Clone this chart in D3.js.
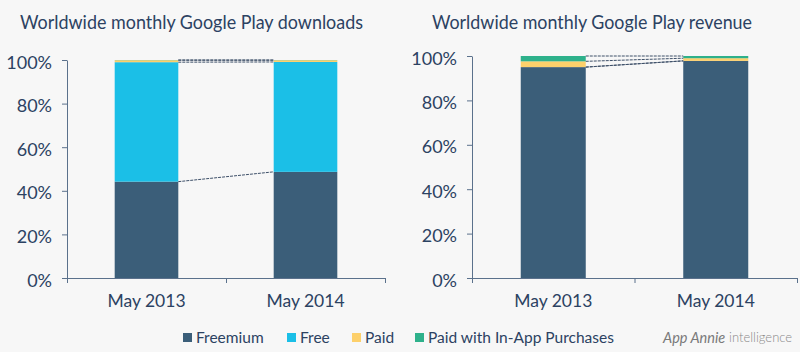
<html>
  <head>
    <script src="https://d3js.org/d3.v7.min.js"></script>
    <style>
      body { margin: 0; background: #f7f7f7; }
      text { font-family: Lato, "DejaVu Sans", sans-serif; fill: #2c4262; }
    </style>
  </head>
  <body>
    <svg width="800" height="352" id="chart"></svg>
  </body>

  <script type="text/javascript">
    // data (percent of total)
    var categories = ["May 2013", "May 2014"];
    var seriesNames = ["Freemium", "Free", "Paid", "Paid with In-App Purchases"];
    var seriesColors = ["#3b5e79", "#1bbfe7", "#fdd06b", "#2eb18b"];
    var yTicks = [0, 20, 40, 60, 80, 100];

    var downloadsFreemium = [44.2, 48.7];
    var downloadsFree = [54.8, 50.4];
    var downloadsPaid = [0.9, 0.8];
    var downloadsIAP = [0.1, 0.1];

    var revenueFreemium = [95.0, 97.8];
    var revenueFree = [0, 0];
    var revenuePaid = [2.6, 1.2];
    var revenueIAP = [2.4, 1.0];

    var svg = d3.select("#chart");
    svg.append("rect").attr("width", 800).attr("height", 352).attr("fill", "#f7f7f7");

    function rows(a, b, c, d) {
      return categories.map(function(cat, i) {
        return { cat: cat, "Freemium": a[i], "Free": b[i], "Paid": c[i], "Paid with In-App Purchases": d[i] };
      });
    }

    function panel(opt) {
      var data = rows(opt.freemium, opt.free, opt.paid, opt.iap);
      var stacked = d3.stack().keys(seriesNames)(data);

      var x = d3.scaleBand().domain(categories).range([opt.x0, opt.x1]).paddingInner(0).paddingOuter(0);
      var barW = x.bandwidth() * 0.4;
      var y = d3.scaleLinear().domain([0, 100]).range([opt.yBottom, opt.yTop]);

      var g = svg.append("g");

      g.append("text")
        .attr("x", opt.titleX).attr("y", 29)
        .attr("textLength", opt.titleW).attr("lengthAdjust", "spacingAndGlyphs")
        .style("font-size", "19px")
        .text(opt.title);

      // bars
      stacked.forEach(function(s, si) {
        g.selectAll(null).data(s).enter().append("rect")
          .attr("x", function(d) { return x(d.data.cat) + (x.bandwidth() - barW) / 2; })
          .attr("width", barW)
          .attr("y", function(d) { return y(d[1]); })
          .attr("height", function(d) { return y(d[0]) - y(d[1]); })
          .attr("fill", seriesColors[si]);
      });

      // dashed connectors between cumulative boundaries
      stacked.forEach(function(s) {
        var a = s[0], b = s[1];
        g.append("line")
          .attr("x1", x(categories[0]) + (x.bandwidth() + barW) / 2)
          .attr("x2", x(categories[1]) + (x.bandwidth() - barW) / 2)
          .attr("y1", y(a[1]))
          .attr("y2", y(b[1]))
          .attr("stroke", "#3e5069")
          .attr("stroke-width", 1)
          .attr("stroke-dasharray", "3,1");
      });

      // y axis
      var yAxis = d3.axisLeft(y).tickValues(yTicks).tickSize(5).tickSizeOuter(0)
        .tickFormat(function(d) { return d + "%"; });
      var ya = g.append("g").attr("transform", "translate(" + opt.x0 + ",0)").call(yAxis);
      ya.selectAll("text").style("font-size", "18px").attr("x", -15).attr("dy", "0.45em");

      // x axis: boundary ticks + labels
      var edge = d3.scaleLinear().domain([0, 2]).range([opt.x0, opt.x1]);
      g.append("g").attr("transform", "translate(0," + opt.yBottom + ")")
        .call(d3.axisBottom(edge).tickValues([0, 1, 2]).tickSize(5).tickSizeOuter(0).tickFormat(""));
      g.append("g").attr("transform", "translate(0," + opt.yBottom + ")")
        .call(d3.axisBottom(x).tickSize(0).tickPadding(17))
        .call(function(sel) { sel.select(".domain").remove(); })
        .selectAll("text").style("font-size", "17.5px");

      g.selectAll(".domain, .tick line").attr("stroke", "#5b718c");
    }

    panel({
      title: "Worldwide monthly Google Play downloads", titleX: 20, titleW: 343,
      x0: 67, x1: 385, yTop: 60, yBottom: 278,
      freemium: downloadsFreemium, free: downloadsFree, paid: downloadsPaid, iap: downloadsIAP
    });
    panel({
      title: "Worldwide monthly Google Play revenue", titleX: 432, titleW: 320,
      x0: 472, x1: 797, yTop: 56, yBottom: 278,
      freemium: revenueFreemium, free: revenueFree, paid: revenuePaid, iap: revenueIAP
    });

    // legend
    var legendX = [183, 287, 352, 415];
    var lg = svg.append("g").selectAll("g").data(seriesNames).enter().append("g")
      .attr("transform", function(d, i) { return "translate(" + legendX[i] + ",333)"; });
    lg.append("rect").attr("width", 9).attr("height", 9).attr("fill", function(d, i) { return seriesColors[i]; });
    lg.append("text").attr("x", 13).attr("y", 10).style("font-size", "15.5px").text(function(d) { return d; });

    // logo
    svg.append("text").attr("x", 663).attr("y", 343)
      .style("font-size", "14.5px").style("font-style", "italic").style("fill", "#7a7a7a")
      .text("App Annie");
    svg.append("text").attr("x", 729).attr("y", 342)
      .style("font-size", "13px").style("font-weight", 300).style("fill", "#8a8a8a")
      .text("intelligence");
  </script>
</html>
